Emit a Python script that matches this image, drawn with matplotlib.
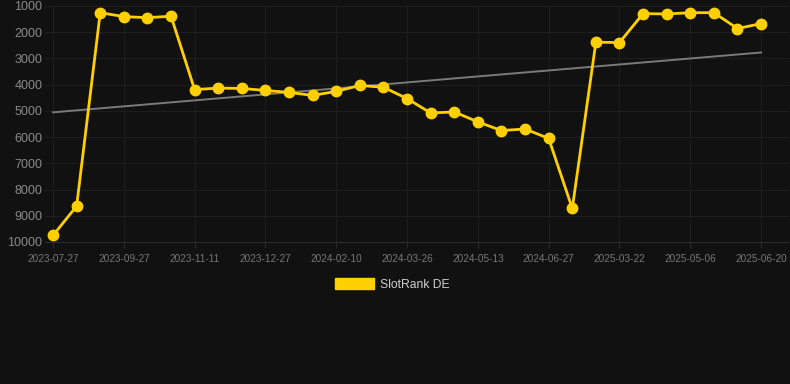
import numpy as np
import matplotlib
matplotlib.use('Agg')
import matplotlib.pyplot as plt
from matplotlib.patches import Patch

plt.rcParams['font.family'] = ['Liberation Sans', 'DejaVu Sans']

dates = ['2023-07-27', '2023-09-27', '2023-11-11', '2023-12-27', '2024-02-10',
         '2024-03-26', '2024-05-13', '2024-06-27', '2025-03-22', '2025-05-06',
         '2025-06-20']
ranks = [9750, 8630, 1255, 1405, 1445, 1390, 4190, 4130, 4145, 4220, 4295,
         4410, 4255, 4030, 4100, 4530, 5080, 5040, 5420, 5750, 5690, 6050,
         8720, 2380, 2395, 1290, 1305, 1255, 1255, 1860, 1670]
yticks = [1000, 2000, 3000, 4000, 5000, 6000, 7000, 8000, 9000, 10000]

bg = '#111111'
x = np.arange(len(ranks))

fig = plt.figure(figsize=(7.9, 3.84), dpi=100, facecolor=bg)
ax = fig.add_axes([45 / 790, 1 - 242 / 384, (788 - 45) / 790, (242 - 6) / 384])
ax.set_facecolor(bg)

# trend line from linear fit
k, b = np.polyfit(x, ranks, 1)
ax.plot(x, k * x + b, color='#7a7a7a', lw=1.4, zorder=2)

ax.plot(x, ranks, color='#FFD000', lw=2.0, marker='o', markersize=7.5,
        zorder=3, clip_on=False)

ax.set_ylim(10000, 1000)
ax.set_yticks(yticks)
ax.set_xlim(-0.34, 31.14)
ax.set_xticks(x[::3])
ax.set_xticklabels(dates)

ax.grid(True, color='#1e1e1e', lw=0.8)
ax.set_axisbelow(True)
for s in ax.spines.values():
    s.set_visible(False)
ax.spines['bottom'].set_visible(True)
ax.spines['bottom'].set_color('#2a2a2a')
ax.spines['bottom'].set_linewidth(0.8)
ax.tick_params(axis='y', length=0, pad=2, labelsize=9, labelcolor='#8a8a8a')
ax.tick_params(axis='x', length=4, color='#2a2a2a', pad=5, labelsize=7.2,
               labelcolor='#777777')

leg = fig.legend(handles=[Patch(facecolor='#FFD000', edgecolor='#FFD000')],
                 labels=['SlotRank DE'], loc='center', bbox_to_anchor=(0.497, 1 - 284.5 / 384),
                 frameon=False, fontsize=8.7, handlelength=3.2, handleheight=0.95,
                 handletextpad=0.5)
for t in leg.get_texts():
    t.set_color('#d0d0d0')

fig.savefig('out.png', dpi=100, facecolor=bg)
